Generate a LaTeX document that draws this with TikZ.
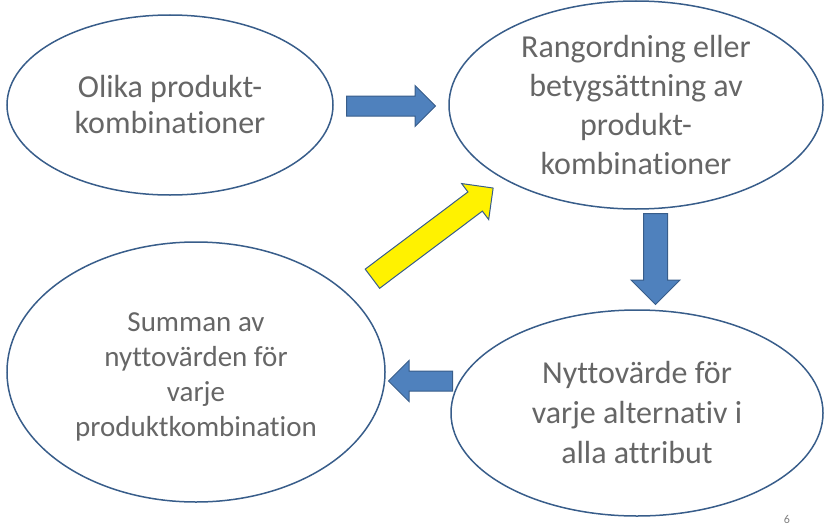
\documentclass[tikz,border=0pt]{standalone}
\usepackage{fontspec}
\setmainfont[Ligatures=NoCommon]{Carlito}
\usetikzlibrary{shapes.geometric,shapes.arrows}
\definecolor{rim}{HTML}{385D8A}
\definecolor{blockblue}{HTML}{4F81BD}
\definecolor{txtgray}{HTML}{666666}
\begin{document}
\begin{tikzpicture}[x=1pt,y=-1pt,
 blob/.style={ellipse,draw=rim,line width=1.5pt,inner sep=0pt},
 lbl/.style={text=txtgray,align=center,inner sep=0pt},
 blockarrow/.style={single arrow,draw=rim,fill=blockblue,line width=1pt,inner sep=0pt,
   single arrow head indent=0pt,anchor=tail}]
\useasboundingbox (0,0) rectangle (826,527);

% ellipses
\node[blob,minimum width=326,minimum height=180] (olika) at (170,105) {};
\node[blob,minimum width=374,minimum height=208] (rang) at (636,105) {};
\node[blob,minimum width=372,minimum height=206] (nytta) at (637,413) {};
\node[blob,minimum width=378,minimum height=260] (summa) at (196,372) {};

\node[lbl,font=\fontsize{32}{36}\selectfont] (olikatxt) at (olika) {Olika produkt-\\kombinationer};
\node[lbl,font=\fontsize{32}{39}\selectfont] (rangtxt) at (rang) {Rangordning eller\\betygsättning av\\produkt-\\kombinationer};
\node[lbl,font=\fontsize{32}{40}\selectfont] (nyttatxt) at (nytta) {Nyttovärde för\\varje alternativ i\\alla attribut};
\node[lbl,font=\fontsize{29}{35}\selectfont] (summatxt) at (196,377) {Summan av\\nyttovärden för\\varje\\produktkombination};

% block arrows
\node[blockarrow,minimum height=89,minimum width=40,inner ysep=9.5,single arrow head extend=10.5] (pil1) at (346,106) {};
\node[blockarrow,rotate=-90,minimum height=91,minimum width=48,inner ysep=11.5,single arrow head extend=12.5] (pil2) at (655.5,213) {};
\node[blockarrow,rotate=180,minimum height=64,minimum width=40,inner ysep=9.5,single arrow head extend=10.5] (pil3) at (453,381) {};
\node[blockarrow,fill=yellow,rotate=36.9,minimum height=151,minimum width=44,inner ysep=11.5,single arrow head extend=10.5] (pil4) at (372,279) {};

\node[text=gray,font=\fontsize{12}{12}\selectfont] (sida) at (787,519) {6};
\end{tikzpicture}
\end{document}
